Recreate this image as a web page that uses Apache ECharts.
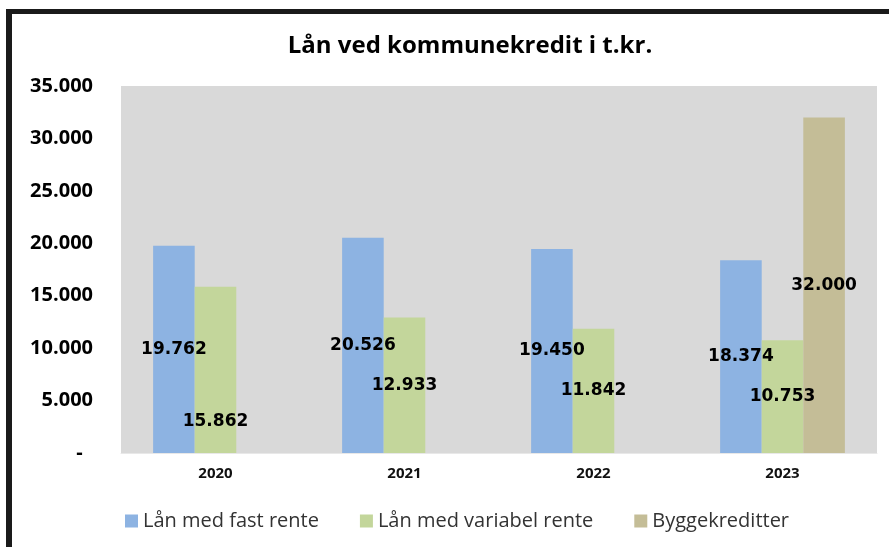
<!DOCTYPE html>
<html>
<head>
<meta charset="utf-8">
<script src="https://cdn.jsdelivr.net/npm/echarts@6/dist/echarts.min.js"></script>
<style>
  html, body { margin: 0; padding: 0; background: #ffffff; }
  #chart { width: 889px; height: 547px; }
</style>
</head>
<body>
<div id="chart"></div>
<script>
// data (t.kr.)
const years = ["2020", "2021", "2022", "2023"];
const fastRente = [19762, 20526, 19450, 18374];
const variabelRente = [15862, 12933, 11842, 10753];
const byggekreditter = [null, null, null, 32000];
const seriesNames = ["Lån med fast rente", "Lån med variabel rente", "Byggekreditter"];

// danish number format: 19762 -> 19.762
function dk(v) {
  return String(Math.round(v)).replace(/\B(?=(\d{3})+(?!\d))/g, ".");
}

const chart = echarts.init(document.getElementById("chart"));

const labelStyle = {
  show: true,
  position: "inside",
  color: "#000000",
  fontFamily: "DejaVu Sans",
  fontWeight: "bold",
  fontSize: 17,
  formatter: (p) => dk(p.value),
};

let option = {
  animation: false,
  backgroundColor: "#ffffff",
  title: {
    text: "Lån ved kommunekredit i t.kr.",
    left: 465,
    top: 29,
    textAlign: "center",
    textStyle: {
      color: "#000000",
      fontFamily: "Open Sans",
      fontWeight: "bold",
      fontSize: 24,
    },
  },
  legend: {
    data: seriesNames,
    left: 120,
    top: 506,
    itemWidth: 13,
    itemHeight: 13,
    itemGap: 41,
    icon: "rect",
    textStyle: {
      color: "#333333",
      fontFamily: "Open Sans",
      fontSize: 20,
    },
  },
  grid: {
    left: 121,
    right: 12,
    top: 86,
    bottom: 94,
    show: true,
    backgroundColor: "#d9d9d9",
    borderWidth: 0,
  },
  xAxis: {
    type: "category",
    data: years,
    axisLine: { show: true, lineStyle: { color: "#e8e8e8", width: 1 } },
    axisTick: { show: false },
    axisLabel: {
      color: "#111111",
      fontFamily: "Open Sans",
      fontWeight: "bold",
      fontSize: 15,
      margin: 13,
    },
  },
  yAxis: {
    type: "value",
    min: 0,
    max: 35000,
    interval: 5000,
    splitLine: { show: false },
    axisLine: { show: false },
    axisTick: { show: false },
    axisLabel: {
      color: "#000000",
      fontFamily: "Open Sans",
      fontWeight: "bold",
      fontSize: 20,
      margin: 28,
      formatter: (v) => (v === 0 ? "-  " : dk(v)),
    },
  },
  series: [
    {
      name: seriesNames[0],
      type: "bar",
      data: fastRente,
      barGap: "0%",
      barCategoryGap: "34%",
      itemStyle: { color: "#8db3e2" },
      label: labelStyle,
    },
    {
      name: seriesNames[1],
      type: "bar",
      // first label sits lower down in the reference
      data: variabelRente.map((v, i) =>
        i === 0 ? { value: v, label: { offset: [0, 52] } } : v
      ),
      itemStyle: { color: "#c3d69b" },
      label: labelStyle,
    },
    {
      name: seriesNames[2],
      type: "bar",
      data: byggekreditter,
      itemStyle: { color: "#c4bd97" },
      label: labelStyle,
    },
  ],
  graphic: [
    // black frame at top and left
    { type: "rect", left: 6, top: 9, shape: { width: 883, height: 5 }, style: { fill: "#1a1a1a" } },
    { type: "rect", left: 6, top: 9, shape: { width: 6, height: 538 }, style: { fill: "#1a1a1a" } },
  ],
};

chart.setOption(option);
</script>
</body>
</html>
